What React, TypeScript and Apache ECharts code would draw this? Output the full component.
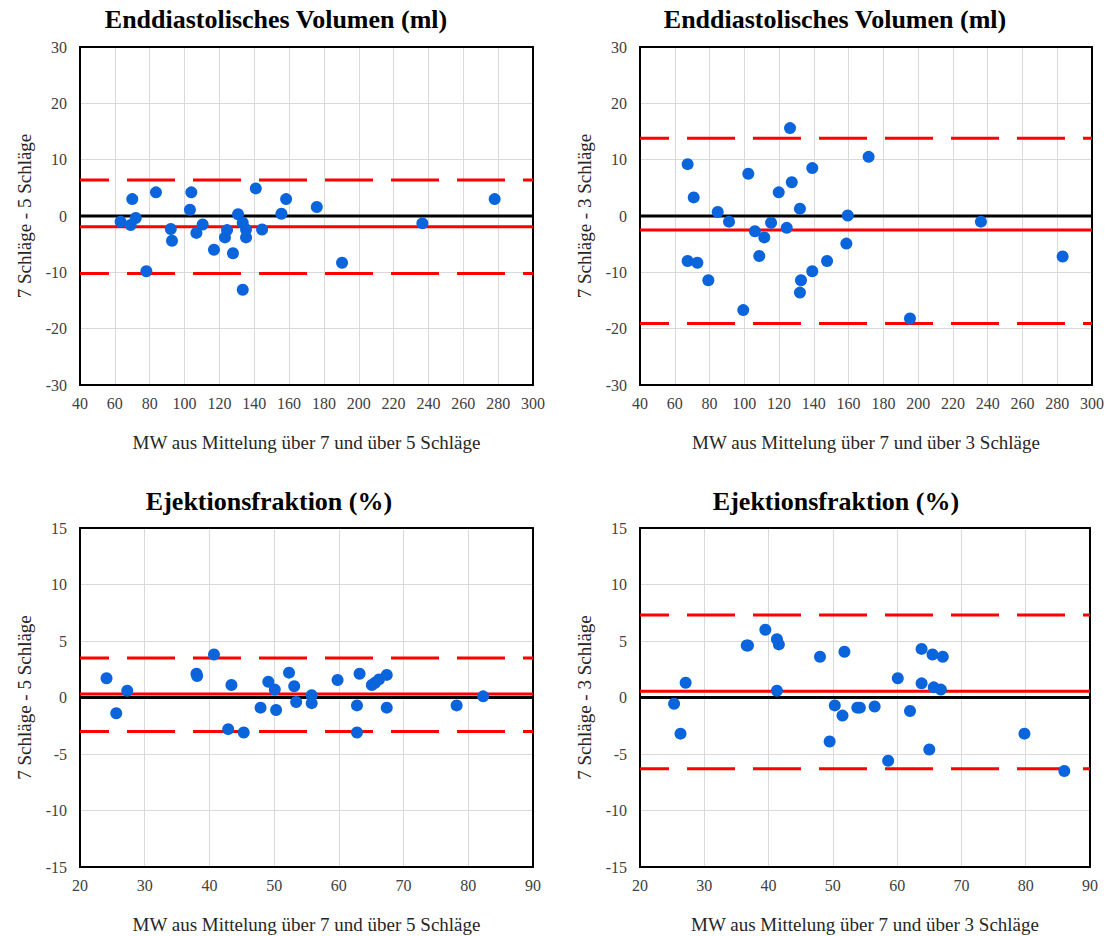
import React, { useEffect, useRef } from "react";
import * as echarts from "echarts";

// ---- Data: Enddiastolisches Volumen, 7 vs 5 Schläge ----
const edvMean75 = [63.3, 69.1, 70.0, 72.0, 78.1, 83.6, 92.1, 92.8, 103.9, 103.1, 106.8, 110.4, 116.9, 123.2, 124.4, 127.8, 130.7, 133.4, 135.3, 135.3, 133.4, 140.9, 144.5, 155.6, 158.3, 175.9, 190.4, 236.5, 278.0];
const edvDiff75 = [-1.0, -1.6, 3.0, -0.35, -9.8, 4.2, -2.3, -4.4, 4.2, 1.1, -3.0, -1.5, -6.0, -3.8, -2.5, -6.6, 0.3, -1.2, -2.4, -3.8, -13.1, 4.9, -2.4, 0.4, 3.0, 1.6, -8.3, -1.3, 3.0];
const edvLimits75 = [-1.9, 6.4, -10.2]; // mean, upper LoA, lower LoA

// ---- Data: Enddiastolisches Volumen, 7 vs 3 Schläge ----
const edvMean73 = [67.4, 70.9, 67.4, 73.0, 79.3, 84.7, 91.2, 99.4, 102.3, 106.1, 111.5, 108.6, 115.4, 119.8, 124.4, 127.3, 126.3, 132.0, 132.6, 132.0, 139.1, 139.1, 147.6, 158.7, 159.5, 171.5, 195.3, 236.1, 283.1];
const edvDiff73 = [9.2, 3.3, -8.0, -8.3, -11.4, 0.7, -1.0, -16.7, 7.5, -2.7, -3.8, -7.1, -1.2, 4.2, -2.1, 6.0, 15.6, 1.3, -11.4, -13.6, 8.5, -9.8, -8.0, -4.9, 0.1, 10.5, -18.2, -1.0, -7.2];
const edvLimits73 = [-2.5, 13.8, -19.1];

// ---- Data: Ejektionsfraktion, 7 vs 5 Schläge ----
const efMean75 = [24.1, 25.6, 27.3, 38.0, 38.1, 40.7, 43.4, 42.9, 45.3, 47.9, 49.1, 50.1, 50.3, 52.3, 53.1, 53.4, 55.8, 55.8, 59.8, 63.2, 62.8, 62.8, 65.1, 65.6, 66.2, 67.4, 67.4, 78.2, 82.3];
const efDiff75 = [1.7, -1.4, 0.6, 2.1, 1.9, 3.8, 1.1, -2.8, -3.1, -0.9, 1.4, 0.7, -1.1, 2.2, 1.0, -0.4, 0.2, -0.5, 1.55, 2.1, -0.7, -3.1, 1.1, 1.3, 1.6, 2.0, -0.9, -0.7, 0.1];
const efLimits75 = [0.3, 3.5, -3.0];

// ---- Data: Ejektionsfraktion, 7 vs 3 Schläge ----
const efMean73 = [25.3, 26.3, 27.1, 36.6, 36.8, 39.5, 41.3, 41.6, 41.3, 48.0, 51.8, 50.3, 51.5, 49.5, 53.8, 54.2, 56.5, 60.1, 62.0, 58.6, 63.8, 65.5, 67.1, 63.8, 65.7, 66.8, 65.0, 79.8, 86.0];
const efDiff73 = [-0.55, -3.2, 1.3, 4.6, 4.6, 6.0, 5.15, 4.7, 0.6, 3.6, 4.05, -0.7, -1.6, -3.9, -0.9, -0.9, -0.8, 1.7, -1.2, -5.6, 4.3, 3.8, 3.6, 1.25, 0.9, 0.7, -4.6, -3.2, -6.5];
const efLimits73 = [0.55, 7.3, -6.3];

// ---- Axis scales and texts ----
const edvXAxis = [40, 300, 20]; // min, max, interval
const edvYAxis = [-30, 30, 10];
const efXAxis = [20, 90, 10];
const efYAxis = [-15, 15, 5];

const titleEdv = "Enddiastolisches Volumen (ml)";
const titleEf = "Ejektionsfraktion (%)";
const xName5 = "MW aus Mittelung über 7 und über 5 Schläge";
const xName3 = "MW aus Mittelung über 7 und über 3 Schläge";
const yName5 = "7 Schläge - 5 Schläge";
const yName3 = "7 Schläge - 3 Schläge";

const FONT = "Liberation Serif";

export default function App() {
  const ref = useRef<HTMLDivElement>(null);

  useEffect(() => {
    if (!ref.current) return;
    const chart = echarts.init(ref.current, undefined, { renderer: "svg" });

    const panels = [
      { grid: { left: 80, top: 47, width: 453, height: 338 }, x: edvXAxis, y: edvYAxis, mx: edvMean75, dy: edvDiff75, lim: edvLimits75, xName: xName5, yName: yName5 },
      { grid: { left: 640, top: 47, width: 452, height: 338 }, x: edvXAxis, y: edvYAxis, mx: edvMean73, dy: edvDiff73, lim: edvLimits73, xName: xName3, yName: yName3 },
      { grid: { left: 80, top: 528, width: 453, height: 339 }, x: efXAxis, y: efYAxis, mx: efMean75, dy: efDiff75, lim: efLimits75, xName: xName5, yName: yName5 },
      { grid: { left: 640, top: 528, width: 450, height: 339 }, x: efXAxis, y: efYAxis, mx: efMean73, dy: efDiff73, lim: efLimits73, xName: xName3, yName: yName3 },
    ];

    const grids: any[] = [];
    const xAxes: any[] = [];
    const yAxes: any[] = [];
    const series: any[] = [];
    const frameLine = { show: true, onZero: false, lineStyle: { color: "#000", width: 2 } };

    panels.forEach((p, i) => {
      grids.push({ ...p.grid, containLabel: false });
      xAxes.push({
        type: "value", gridIndex: i, min: p.x[0], max: p.x[1], interval: p.x[2], position: "bottom",
        axisLine: frameLine, axisTick: { show: false },
        axisLabel: { fontFamily: FONT, fontSize: 16, color: "#404040", margin: 10 },
        splitLine: { show: true, lineStyle: { color: "#d9d9d9", width: 1 } },
        name: p.xName, nameLocation: "middle", nameGap: 48,
        nameTextStyle: { fontFamily: FONT, fontSize: 19, color: "#262626" },
      });
      xAxes.push({
        type: "value", gridIndex: i, min: p.x[0], max: p.x[1], interval: p.x[2], position: "top",
        axisLine: frameLine, axisTick: { show: false }, axisLabel: { show: false }, splitLine: { show: false },
      });
      yAxes.push({
        type: "value", gridIndex: i, min: p.y[0], max: p.y[1], interval: p.y[2], position: "left",
        axisLine: frameLine, axisTick: { show: false },
        axisLabel: { fontFamily: FONT, fontSize: 16, color: "#404040", margin: 13 },
        splitLine: { show: true, lineStyle: { color: "#d9d9d9", width: 1 } },
        name: p.yName, nameLocation: "middle", nameGap: 46,
        nameTextStyle: { fontFamily: FONT, fontSize: 19, color: "#262626" },
      });
      yAxes.push({
        type: "value", gridIndex: i, min: p.y[0], max: p.y[1], interval: p.y[2], position: "right",
        axisLine: frameLine, axisTick: { show: false }, axisLabel: { show: false }, splitLine: { show: false },
      });
      const xi = i * 2;
      const yi = i * 2;
      const hline = (v: number) => [[p.x[0], v], [p.x[1], v]];
      series.push({
        type: "line", xAxisIndex: xi, yAxisIndex: yi, data: hline(0), symbol: "none",
        lineStyle: { color: "#000", width: 3 }, silent: true, z: 2,
      });
      series.push({
        type: "line", xAxisIndex: xi, yAxisIndex: yi, data: hline(p.lim[0]), symbol: "none",
        lineStyle: { color: "#ff0000", width: 3 }, silent: true, z: 3,
      });
      [p.lim[1], p.lim[2]].forEach((v) => {
        series.push({
          type: "line", xAxisIndex: xi, yAxisIndex: yi, data: hline(v), symbol: "none",
          lineStyle: { color: "#ff0000", width: 3, type: [48, 18], dashOffset: 19 }, silent: true, z: 3,
        });
      });
      series.push({
        type: "scatter", xAxisIndex: xi, yAxisIndex: yi,
        data: p.mx.map((m, k) => [m, p.dy[k]]),
        symbol: "circle", symbolSize: 12,
        itemStyle: { color: "#0a64dc", opacity: 1 }, z: 5,
      });
    });

    const tStyle = { fontFamily: FONT, fontSize: 26, fontWeight: "bold", color: "#000" };
    chart.setOption({
      animation: false,
      backgroundColor: "#fff",
      textStyle: { fontFamily: FONT },
      title: [
        { text: titleEdv, left: 276, top: 6, textAlign: "center", padding: 0, textStyle: tStyle },
        { text: titleEdv, left: 835, top: 6, textAlign: "center", padding: 0, textStyle: tStyle },
        { text: titleEf, left: 269, top: 488, textAlign: "center", padding: 0, textStyle: tStyle },
        { text: titleEf, left: 836, top: 488, textAlign: "center", padding: 0, textStyle: tStyle },
      ],
      grid: grids,
      xAxis: xAxes,
      yAxis: yAxes,
      series,
    });

    return () => chart.dispose();
  }, []);

  return (
    <div
      ref={ref}
      style={{ position: "fixed", left: 0, top: 0, width: 1109, height: 936, background: "#fff" }}
    />
  );
}
